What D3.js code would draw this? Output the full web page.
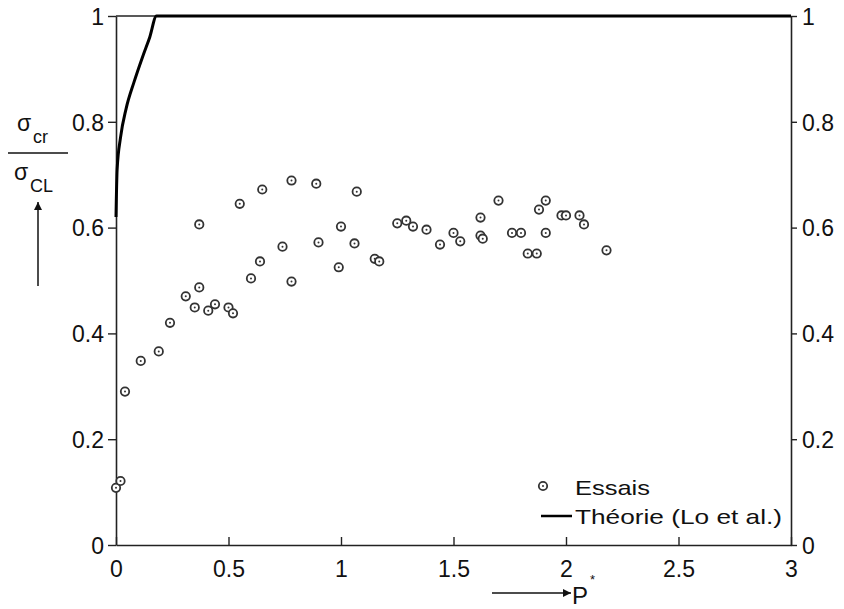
<!DOCTYPE html>
<html>
<head>
<meta charset="utf-8">
<script src="https://cdn.jsdelivr.net/npm/d3@7"></script>
<style>
  body { margin: 0; background: #fff; }
  text { font-family: "Liberation Sans", Arial, sans-serif; fill: #111; }
</style>
</head>
<body>
<script>
// test points (P*, sigma_cr / sigma_CL)
var essaisX = [0.00, 0.02, 0.04, 0.11, 0.19, 0.24, 0.31, 0.35, 0.37, 0.37, 0.41, 0.44, 0.50, 0.52,
               0.55, 0.60, 0.64, 0.65, 0.74, 0.78, 0.78, 0.90, 0.89, 0.99, 1.00, 1.06, 1.07, 1.15,
               1.17, 1.25, 1.29, 1.32, 1.38, 1.44, 1.50, 1.53, 1.62, 1.62, 1.63, 1.70, 1.76, 1.80,
               1.83, 1.87, 1.88, 1.91, 1.91, 1.98, 2.00, 2.06, 2.08, 2.18];
var essaisY = [0.108, 0.121, 0.290, 0.348, 0.366, 0.420, 0.470, 0.449, 0.487, 0.606, 0.443, 0.455, 0.449, 0.438,
               0.645, 0.504, 0.536, 0.672, 0.564, 0.689, 0.498, 0.572, 0.683, 0.525, 0.602, 0.570, 0.668, 0.541,
               0.536, 0.608, 0.613, 0.602, 0.596, 0.568, 0.590, 0.574, 0.619, 0.585, 0.579, 0.651, 0.590, 0.590,
               0.551, 0.551, 0.634, 0.651, 0.590, 0.623, 0.623, 0.623, 0.606, 0.557];

// theory curve (Lo et al.)
var theorieX = [0, 0.005, 0.02, 0.045, 0.08, 0.12, 0.15, 0.18, 3];
var theorieY = [0.62, 0.71, 0.77, 0.825, 0.875, 0.925, 0.96, 1.0, 1.0];

var xTicks = [0, 0.5, 1, 1.5, 2, 2.5, 3];
var yTicks = [0, 0.2, 0.4, 0.6, 0.8, 1];

var W = 844, H = 609;
var margin = { top: 16, right: 53, bottom: 64, left: 116 },
    width = W - margin.left - margin.right,
    height = H - margin.top - margin.bottom;

var svg = d3.select("body").append("svg")
    .attr("width", W)
    .attr("height", H);

var g = svg.append("g")
    .attr("transform", "translate(" + margin.left + "," + margin.top + ")");

var x = d3.scaleLinear().domain([0, 3]).range([0, width]);
var y = d3.scaleLinear().domain([0, 1]).range([height, 0]);

var fmt = function (d) { return d3.format("")(d); };

// axes
var xAxis = d3.axisBottom(x).tickValues(xTicks).tickFormat(fmt).tickSizeInner(-8).tickSizeOuter(0).tickPadding(16);
var yLeft = d3.axisLeft(y).tickValues(yTicks).tickFormat(fmt).tickSizeInner(8).tickSizeOuter(0).tickPadding(4);
var yRight = d3.axisRight(y).tickValues(yTicks).tickFormat(fmt).tickSizeInner(6).tickSizeOuter(0).tickPadding(5);

function styleAxis(sel) {
    sel.selectAll("path.domain").attr("stroke", "#222").attr("stroke-width", 1.6);
    sel.selectAll(".tick line").attr("stroke", "#222").attr("stroke-width", 1.4);
    sel.selectAll(".tick text")
        .style("font-family", "'Liberation Sans', Arial, sans-serif")
        .style("font-size", "23px")
        .attr("fill", "#111");
}

g.append("g").attr("transform", "translate(0," + height + ")").call(xAxis).call(styleAxis);
g.append("g").call(yLeft).call(styleAxis);
g.append("g").attr("transform", "translate(" + width + ",0)").call(yRight).call(styleAxis);
g.selectAll(".tick text").attr("dy", "0.36em");
g.select("g").selectAll(".tick text").attr("dy", "0.71em");

// top frame line
g.append("line")
    .attr("x1", 0).attr("x2", width)
    .attr("y1", y(1)).attr("y2", y(1))
    .attr("stroke", "#222").attr("stroke-width", 1.4);

// theory curve
var line = d3.line()
    .x(function (d) { return x(d[0]); })
    .y(function (d) { return y(d[1]); })
    .curve(d3.curveMonotoneX);

g.append("path")
    .datum(d3.zip(theorieX, theorieY))
    .attr("d", line)
    .attr("fill", "none")
    .attr("stroke", "#000")
    .attr("stroke-width", 3);

// test markers
function marker(sel) {
    sel.append("circle").attr("r", 4.2)
        .attr("fill", "#fff").attr("stroke", "#333").attr("stroke-width", 1.8);
    sel.append("circle").attr("r", 1).attr("fill", "#333");
}

g.append("g").selectAll("g")
    .data(d3.zip(essaisX, essaisY))
    .enter().append("g")
    .attr("transform", function (d) { return "translate(" + x(d[0]) + "," + y(d[1]) + ")"; })
    .call(marker);

// legend
svg.append("g").attr("transform", "translate(543,486)").call(marker);
svg.append("text").attr("x", 575).attr("y", 495)
    .attr("textLength", 75).attr("lengthAdjust", "spacingAndGlyphs")
    .style("font-size", "21px").text("Essais");
svg.append("line").attr("x1", 541).attr("x2", 572).attr("y1", 516).attr("y2", 516)
    .attr("stroke", "#000").attr("stroke-width", 2.5);
svg.append("text").attr("x", 575).attr("y", 524)
    .attr("textLength", 207).attr("lengthAdjust", "spacingAndGlyphs")
    .style("font-size", "21px").text("Théorie (Lo et al.)");

// arrow marker
svg.append("defs").append("marker")
    .attr("id", "arr")
    .attr("viewBox", "0 0 10 10")
    .attr("refX", 10).attr("refY", 5)
    .attr("markerWidth", 14).attr("markerHeight", 8)
    .attr("markerUnits", "userSpaceOnUse")
    .attr("orient", "auto")
    .append("path").attr("d", "M0,0L10,5L0,10z").attr("fill", "#111");

// y label: sigma_cr / sigma_CL with arrow
var yl = svg.append("g");
yl.append("text").attr("x", 17).attr("y", 131).style("font-size", "23px").text("σ");
yl.append("text").attr("x", 33).attr("y", 143).style("font-size", "18px").text("cr");
yl.append("line").attr("x1", 8).attr("x2", 68).attr("y1", 153).attr("y2", 153)
    .attr("stroke", "#111").attr("stroke-width", 1.4);
yl.append("text").attr("x", 14).attr("y", 180).style("font-size", "23px").text("σ");
yl.append("text").attr("x", 30).attr("y", 192).style("font-size", "18px").text("CL");
yl.append("line").attr("x1", 38).attr("x2", 38).attr("y1", 286).attr("y2", 202)
    .attr("stroke", "#111").attr("stroke-width", 1.5).attr("marker-end", "url(#arr)");

// x label: arrow P*
svg.append("line").attr("x1", 492).attr("x2", 571).attr("y1", 593).attr("y2", 593)
    .attr("stroke", "#111").attr("stroke-width", 1.5).attr("marker-end", "url(#arr)");
svg.append("text").attr("x", 572).attr("y", 604).style("font-size", "24px").text("P");
svg.append("text").attr("x", 590).attr("y", 584).style("font-size", "13px").text("*");
</script>
</body>
</html>
